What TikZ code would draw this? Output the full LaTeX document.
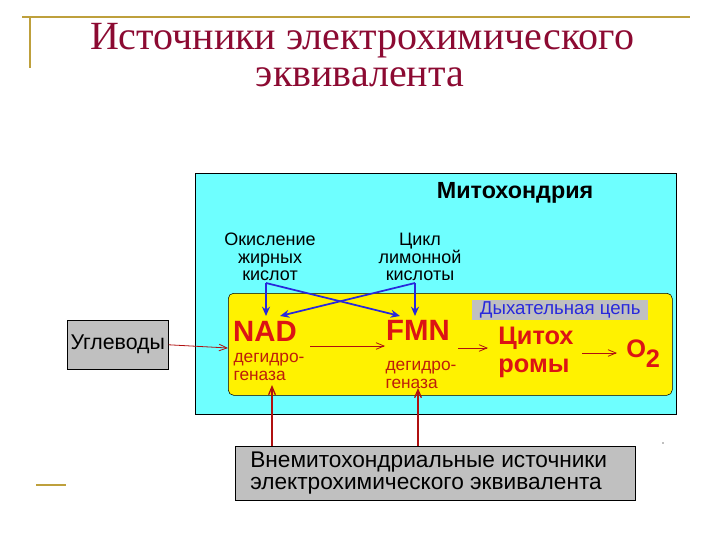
\documentclass[tikz,border=0pt]{standalone}
\usepackage{fontspec}
\setmainfont{Liberation Serif}
\newfontfamily\sans{Liberation Sans}
\usetikzlibrary{arrows.meta}
\definecolor{gold}{RGB}{190,160,60}
\definecolor{titlered}{RGB}{140,10,50}
\definecolor{cyanbg}{RGB}{110,255,255}
\definecolor{greybg}{RGB}{192,192,192}
\definecolor{redtxt}{RGB}{220,20,20}
\definecolor{darkred}{RGB}{190,30,10}
\definecolor{bluearr}{RGB}{40,40,220}
\begin{document}
\begin{tikzpicture}[x=0.75pt,y=-0.75pt,
  lbl/.style={font=\sans\fontsize{13.5}{13}\selectfont,align=center,inner sep=0pt},
  big/.style={font=\sans\bfseries\fontsize{19}{21}\selectfont,text=redtxt,align=center,inner sep=0pt},
  small/.style={font=\sans\fontsize{13}{13.5}\selectfont,text=darkred,align=left,inner sep=0pt},
  barr/.style={draw=bluearr,line width=1.3pt,-{Stealth[length=7pt,width=6pt]}},
  rarr/.style={draw=redtxt!80!black,line width=0.6pt,-{Straight Barb[length=6pt,width=5pt]}}]
\useasboundingbox (0,0) rectangle (720,540);
\draw[gold,line width=1.2pt] (22,17) -- (690,17);
\draw[gold,line width=1.2pt] (30,17) -- (30,68);
\draw[gold,line width=1.2pt] (36,485) -- (66,485);
\node[text=titlered,font=\fontsize{30}{34}\selectfont,inner sep=0pt] (t1) at (362,41) {Источники электрохимического};
\node[text=titlered,font=\fontsize{30}{34}\selectfont,inner sep=0pt] (t2) at (360,77) {эквивалента};
\node[draw=black,fill=cyanbg,minimum width=481*0.75pt,minimum height=241*0.75pt,anchor=north west,inner sep=0pt] (mito) at (195,173) {};
\node[draw=black,fill=yellow,rounded corners=4pt,minimum width=444*0.75pt,minimum height=102*0.75pt,anchor=north west,inner sep=0pt] (chain) at (228,293) {};
\node[fill=greybg,minimum width=176*0.75pt,minimum height=20*0.75pt,anchor=north west,inner sep=0pt] (dcbox) at (472,300) {};
\node[lbl,text=bluearr,font=\sans\fontsize{14}{14}\selectfont] (dc) at (dcbox.center) {Дыхательная цепь};
\node[font=\sans\bfseries\fontsize{17.5}{18}\selectfont,inner sep=0pt] (mt) at (515,193) {Митохондрия};
\node[lbl] (fa) at (270,257) {Окисление\\жирных\\кислот};
\node[lbl] (cy) at (420,257) {Цикл\\лимонной\\кислоты};
\coordinate (faB) at (266,283);
\coordinate (cyB) at (415,283);
\node[big,font=\sans\bfseries\fontsize{22}{22}\selectfont] (nad) at (265,331) {NAD};
\node[small] (nadd) at (269,367) {дегидро-\\геназа};
\node[big,font=\sans\bfseries\fontsize{22}{22}\selectfont] (fmn) at (418,330) {FMN};
\node[small] (fmnd) at (421,375) {дегидро-\\геназа};
\node[big,align=left] (cyt) at (536,352) {Цитох\\ромы};
\node[big,anchor=west] (o2) at (626,354) {O\textsubscript{\fontsize{19}{19}\selectfont 2}};
\coordinate (nadT) at (266,316);
\coordinate (nadT2) at (280,316);
\coordinate (fmnT) at (415,316);
\coordinate (fmnT2) at (400,316);
\draw[barr] (faB) -- (nadT);
\draw[barr] (faB) -- (fmnT2);
\draw[barr] (cyB) -- (fmnT);
\draw[barr] (cyB) -- (nadT2);
\coordinate (a1) at (310,346); \coordinate (a2) at (385,346);
\draw[rarr] (a1) -- (a2);
\coordinate (b1) at (458,348); \coordinate (b2) at (488,348);
\draw[rarr] (b1) -- (b2);
\coordinate (c1) at (582,353); \coordinate (c2) at (617,353);
\draw[rarr] (c1) -- (c2);
\node[draw=black,fill=greybg,minimum width=101*0.75pt,minimum height=49*0.75pt,anchor=north west,inner sep=0pt] (ug) at (67,320) {};
\node[lbl,font=\sans\fontsize{16}{16}\selectfont] at (ug.center) {Углеводы};
\coordinate (ugT) at (228,348);
\draw[rarr] (ug.east) -- (ugT);
\node[draw=black,fill=greybg,minimum width=400*0.75pt,minimum height=54*0.75pt,anchor=north west,inner sep=0pt] (ext) at (235,446) {};
\node[lbl,font=\sans\fontsize{17}{17}\selectfont,align=left,anchor=west] at (250,473) {Внемитохондриальные источники\\электрохимического эквивалента};
\coordinate (u1) at (272,446); \coordinate (u1t) at (272,385);
\coordinate (u2) at (418,446); \coordinate (u2t) at (418,388);
\draw[rarr,line width=1pt] (u1) -- (u1t);
\draw[rarr,line width=1pt] (u2) -- (u2t);
\fill[gray] (663,443) circle (0.8);
\end{tikzpicture}
\end{document}
